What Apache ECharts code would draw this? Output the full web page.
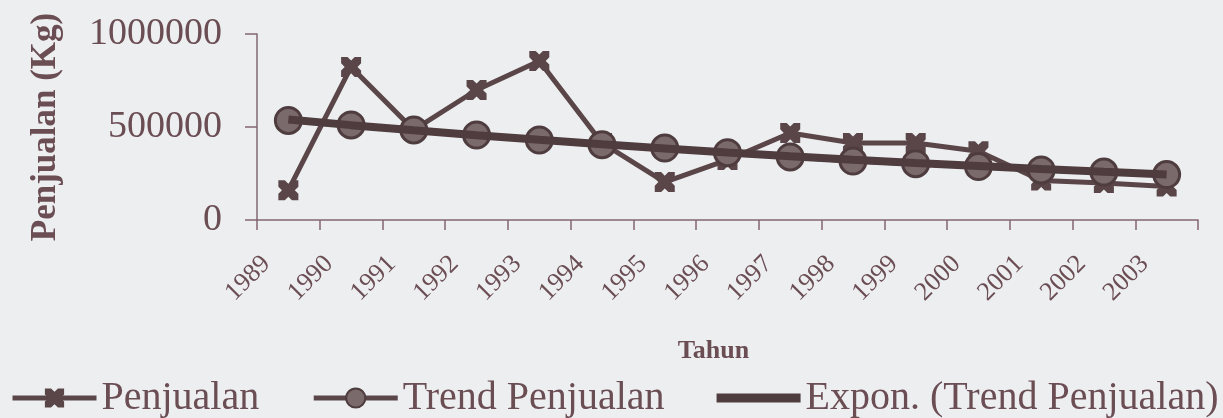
<!DOCTYPE html>
<html>
<head>
<meta charset="utf-8">
<script src="https://cdn.jsdelivr.net/npm/echarts@6/dist/echarts.min.js"></script>
<style>
html,body{margin:0;padding:0;background:#eceeef;}
#chart{width:1223px;height:418px;}
</style>
</head>
<body>
<div id="chart"></div>
<script>
const years = ['1989','1990','1991','1992','1993','1994','1995','1996','1997','1998','1999','2000','2001','2002','2003'];
const penjualan = [160000, 823000, 484000, 699000, 855000, 414000, 204000, 323000, 468000, 414000, 414000, 370000, 212000, 199000, 180000];
const trendPenjualan = [535000, 511000, 484000, 457000, 430000, 405000, 387000, 362000, 339000, 317000, 303000, 287000, 269000, 258000, 244000];
const exponTrend = [540000, 510000, 482000, 456000, 431000, 407000, 385000, 363000, 343000, 324000, 306000, 290000, 274000, 259000, 245000];
const yTicks = [0, 500000, 1000000];

const ink = '#5a4649';
const textCol = '#6b4d54';
const axisCol = '#836770';
const xMark = 'path://M0,0 L3.2,0 L5,1.8 L6.8,0 L10,0 L10,3.2 L8.2,5 L10,6.8 L10,10 L6.8,10 L5,8.2 L3.2,10 L0,10 L0,6.8 L1.8,5 L0,3.2 Z';
const thickLine = 'path://M0,0 L84,0 L84,9 L0,9 Z';

const chart = echarts.init(document.getElementById('chart'));
chart.setOption({
  backgroundColor: '#eceeef',
  animation: false,
  grid: {left: 257, right: 25, top: 34, bottom: 198},
  legend: {
    left: 10, bottom: 0, width: 1223, padding: 0,
    itemWidth: 84, itemHeight: 24, itemGap: 52,
    lineStyle: {width: 5},
    textStyle: {fontFamily: 'Liberation Serif', fontSize: 40, color: textCol},
    data: [
      {name: 'Penjualan'},
      {name: 'Trend Penjualan'},
      {name: 'Expon. (Trend Penjualan)', icon: thickLine}
    ]
  },
  xAxis: {
    type: 'category',
    data: years,
    boundaryGap: true,
    name: 'Tahun',
    nameLocation: 'middle',
    nameGap: 118,
    nameTextStyle: {fontFamily: 'Liberation Serif', fontWeight: 'bold', fontSize: 26, color: textCol, padding: [0, 28, 0, 0]},
    axisLine: {show: true, lineStyle: {color: axisCol, width: 1.5}},
    axisTick: {show: true, length: 10, alignWithLabel: false, lineStyle: {color: axisCol, width: 1.5}},
    axisLabel: {rotate: 45, margin: 18, padding: [0, 31, 0, 0], fontFamily: 'Liberation Serif', fontSize: 26, color: textCol, interval: 0}
  },
  yAxis: {
    type: 'value',
    min: 0, max: 1000000, interval: 500000,
    name: 'Penjualan (Kg)',
    nameLocation: 'middle',
    nameGap: 194,
    nameTextStyle: {fontFamily: 'Liberation Serif', fontWeight: 'bold', fontSize: 35, color: textCol},
    axisLine: {show: true, lineStyle: {color: axisCol, width: 1.5}},
    axisTick: {show: true, inside: false, length: 12, lineStyle: {color: axisCol, width: 1.5}},
    splitLine: {show: false},
    axisLabel: {
      margin: 35, fontFamily: 'Liberation Serif', fontSize: 38, color: textCol,
      formatter: function (v) { return yTicks.indexOf(v) >= 0 ? String(v) : ''; }
    }
  },
  series: [
    {
      name: 'Penjualan', type: 'line', data: penjualan,
      symbol: xMark, symbolSize: 20,
      lineStyle: {color: ink, width: 5},
      itemStyle: {color: ink, borderColor: ink, borderWidth: 0},
      z: 2
    },
    {
      name: 'Trend Penjualan', type: 'line', data: trendPenjualan,
      symbol: 'circle', symbolSize: 26,
      lineStyle: {color: ink, width: 5},
      itemStyle: {color: '#7a6a6c', borderColor: '#4e3c3f', borderWidth: 3},
      z: 3
    },
    {
      name: 'Expon. (Trend Penjualan)', type: 'line', data: exponTrend,
      symbol: 'none', showSymbol: false,
      lineStyle: {color: '#4e3c3f', width: 8},
      itemStyle: {color: '#4e3c3f'},
      z: 4
    }
  ]
});
</script>
</body>
</html>
